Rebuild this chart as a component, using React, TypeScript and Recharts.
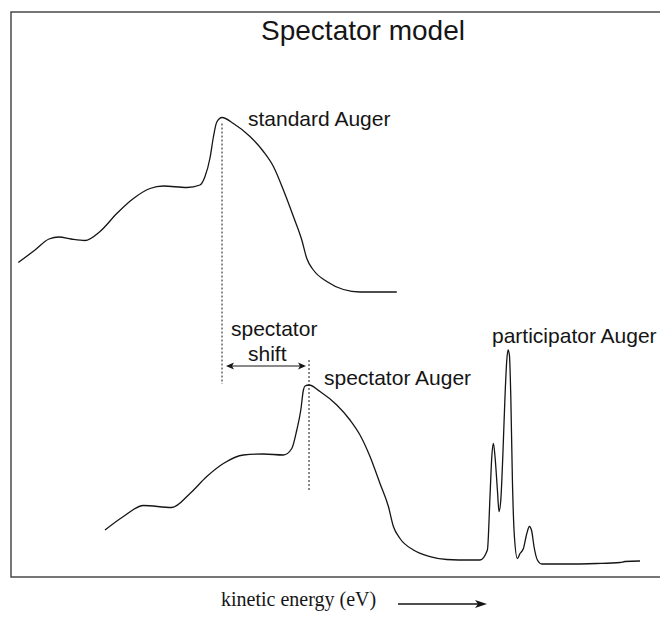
import React from 'react';
import {
  LineChart,
  Line,
  XAxis,
  YAxis,
  ReferenceArea,
  ReferenceLine,
  ReferenceDot,
} from 'recharts';

const SANS = '"Liberation Sans", Arial, Helvetica, sans-serif';
const SERIF = '"Liberation Serif", "Times New Roman", serif';
const INK = '#151515';

// upper trace: standard Auger (offset vertically)
const standardEnergy = [
  3.65, 12, 19, 24, 30, 37, 44.5, 52.9, 61.2, 69.5, 76.2, 87.9, 94.5, 97, 99.5, 101.2, 102.9, 105.5,
  111.2, 119.5, 126.2, 131.2, 136.2, 141.2, 145.4, 147.9, 151.2, 157.9, 166.2, 174.5, 192.9,
];
const standardIntensity = [
  62.9, 65.4, 67.6, 68, 67.6, 67.3, 69.1, 72.7, 75.7, 77.7, 78.2, 77.9, 78.4, 80.1, 83.8, 88, 91, 91.9,
  90.7, 88.1, 85.1, 82.1, 77.4, 72.1, 67.4, 63.7, 61.4, 59.1, 57.5, 57, 57,
];

// lower trace: spectator Auger + participator lines
const spectatorEnergy = [
  47, 56.2, 66.2, 80.4, 89.5, 97.9, 106.2, 116.2, 126.2, 136.2, 140.4, 142.9, 144.9, 146.2, 147, 149,
  154.5, 162.9, 169.5, 174.5, 179.5, 184.5, 188.7, 191.2, 194.5, 201.2, 209.5, 217.9, 229.5, 234.5,
  238.2, 239.5, 240.4, 241.2, 242, 243.2, 244, 244.9, 245.9, 247, 247.9, 248.5, 249.2, 249.9, 250.7,
  251.7, 253.2, 254.5, 256.2, 257.9, 259.2, 260.4, 261.5, 263.2, 265.4, 276.2, 292.9, 304.5, 307,
  314.5,
];
const spectatorIntensity = [
  9.4, 12.1, 14.3, 13.9, 16.7, 20.1, 22.7, 24.4, 24.6, 24.4, 25.7, 29.4, 33.4, 37.4, 38.2, 38.4,
  37.1, 34.4, 31.4, 28.4, 24.1, 18.7, 14.1, 10.1, 7.7, 5.4, 4.1, 3.5, 3.4, 3.4,
  5.4, 16.1, 24.1, 26.7, 24.1, 17.4, 13.1, 15.4, 24.1, 36.1, 43.4, 45.4, 44.4, 36.1, 19.4,
  8.1, 3.7, 4.7, 5.7, 8.7, 10.1, 9.1, 6.1, 3.4, 2.6, 2.6, 2.7, 2.9, 3.1,
  3.2,
];

const energyDomain = [0, 330];
const intensityDomain = [0, 113];

type Pt = { e: number; i: number };

const toPoints = (e: number[], i: number[]): Pt[] => e.map((x, k) => ({ e: x, i: i[k] }));

const peakOf = (pts: Pt[], lo: number, hi: number) =>
  pts.filter((p) => p.e >= lo && p.e <= hi).reduce((a, b) => (b.i > a.i ? b : a));

const standard = toPoints(standardEnergy, standardIntensity);
const spectator = toPoints(spectatorEnergy, spectatorIntensity);

const standardPeak = peakOf(standard, 0, 330);
const spectatorPeak = peakOf(spectator, 0, 200);
const participatorPeak = peakOf(spectator, 200, 330);

// text placed next to a data point
const note =
  (text: string, dx: number, dy: number) =>
  (p: any) =>
    (
      <text
        x={p.cx + dx}
        y={p.cy + dy}
        dominantBaseline="central"
        fontFamily={SANS}
        fontSize={21}
        fill={INK}
      >
        {text}
      </text>
    );

// double-headed arrow with the "spectator shift" caption above it
const ShiftArrow = (p: any) => {
  const { x1, x2, y1 } = p;
  const h = 8;
  const w = 3.5;
  return (
    <g>
      <line x1={x1 + 2} y1={y1} x2={x2 - 2} y2={y1} stroke={INK} strokeWidth={1.2} />
      <polygon points={`${x1},${y1} ${x1 + h},${y1 - w} ${x1 + h - 2},${y1} ${x1 + h},${y1 + w}`} fill={INK} />
      <polygon points={`${x2},${y1} ${x2 - h},${y1 - w} ${x2 - h + 2},${y1} ${x2 - h},${y1 + w}`} fill={INK} />
      <text x={x1 + 5} y={y1 - 38} dominantBaseline="central" fontFamily={SANS} fontSize={21} fill={INK}>
        spectator
      </text>
      <text x={x1 + 22} y={y1 - 13} dominantBaseline="central" fontFamily={SANS} fontSize={21} fill={INK}>
        shift
      </text>
    </g>
  );
};

export default function App() {
  return (
    <div
      style={{
        position: 'absolute',
        left: 0,
        top: 0,
        width: 660,
        height: 617,
        overflow: 'hidden',
        background: '#fff',
      }}
    >
      <LineChart width={672} height={617} margin={{ top: 12, right: 1, left: 11, bottom: 40 }}>
        <XAxis type="number" dataKey="e" domain={energyDomain} hide allowDataOverflow />
        <YAxis type="number" domain={intensityDomain} hide allowDataOverflow />
        <ReferenceArea
          x1={energyDomain[0]}
          x2={energyDomain[1]}
          y1={intensityDomain[0]}
          y2={intensityDomain[1]}
          fill="none"
          stroke="#4a4a4a"
          strokeWidth={1.5}
        />
        <ReferenceLine
          segment={[
            { x: standardPeak.e, y: standardPeak.i - 1.2 },
            { x: standardPeak.e, y: 38.6 },
          ]}
          stroke={INK}
          strokeWidth={1}
          strokeDasharray="2 2"
        />
        <ReferenceLine
          segment={[
            { x: spectatorPeak.e, y: 43.4 },
            { x: spectatorPeak.e, y: 17.4 },
          ]}
          stroke={INK}
          strokeWidth={1}
          strokeDasharray="2 2"
        />
        <ReferenceLine
          segment={[
            { x: standardPeak.e + 2, y: 42.2 },
            { x: spectatorPeak.e - 1.5, y: 42.2 },
          ]}
          shape={ShiftArrow}
        />
        <Line
          data={standard}
          dataKey="i"
          type="monotone"
          stroke={INK}
          strokeWidth={1.3}
          dot={false}
          activeDot={false}
          isAnimationActive={false}
        />
        <Line
          data={spectator}
          dataKey="i"
          type="monotone"
          stroke={INK}
          strokeWidth={1.3}
          dot={false}
          activeDot={false}
          isAnimationActive={false}
        />
        <ReferenceDot x={standardPeak.e} y={standardPeak.i} r={0} shape={note('standard Auger', 26, 1)} />
        <ReferenceDot x={spectatorPeak.e} y={spectatorPeak.i} r={0} shape={note('spectator Auger', 15, -8)} />
        <ReferenceDot
          x={participatorPeak.e}
          y={participatorPeak.i}
          r={0}
          shape={note('participator Auger', -16, -15)}
        />
      </LineChart>
      <svg
        width={660}
        height={617}
        style={{ position: 'absolute', left: 0, top: 0, pointerEvents: 'none' }}
      >
        <text x={363} y={40} textAnchor="middle" fontFamily={SANS} fontSize={28} fill={INK}>
          Spectator model
        </text>
        <text x={221} y={606} fontFamily={SERIF} fontSize={20} fill={INK}>
          kinetic energy (eV)
        </text>
        <line x1={398} y1={604} x2={478} y2={604} stroke={INK} strokeWidth={1.3} />
        <polygon points="487,604 475,600 478,604 475,608" fill={INK} />
      </svg>
    </div>
  );
}
